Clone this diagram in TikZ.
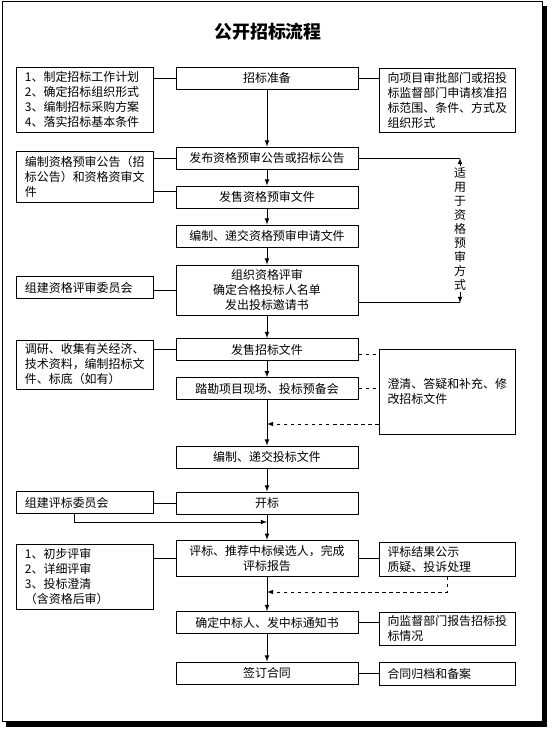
\documentclass[tikz,border=0pt]{standalone}
\usepackage{fontspec}
\setmainfont{Noto Sans CJK SC}
\usetikzlibrary{arrows,positioning,calc}

\begin{document}
\begin{tikzpicture}[x=0.03cm, y=-0.03cm,
    every node/.style={font=\fontsize{10.2}{12.8}\selectfont},
    mainbox/.style={draw, line width=0.8pt, minimum width=5.46cm, minimum height=0.66cm, inner sep=0pt, align=center},
    sidebox/.style={draw, line width=0.8pt, minimum width=4.1cm, text width=3.6cm, inner xsep=0.25cm, inner ysep=0pt, align=left},
    link/.style={line width=0.8pt},
    flow/.style={line width=0.8pt, -latex},
    dashlink/.style={line width=0.8pt, dashed}]
    \useasboundingbox (0,0) rectangle (551,730);
    % page frame with shadow
    \fill (6,6) rectangle (547,727);
    \draw[line width=0.8pt, fill=white] (2,1) rectangle (542,721);

    \node[font=\bfseries\fontsize{15.3}{18}\selectfont] (title) at (268,32) {公开招标流程};

    % main steps
    \node[mainbox] (prep) at (267,78) {招标准备};
    \node[mainbox] (pub) at (267,158) {发布资格预审公告或招标公告};
    \node[mainbox] (sellq) at (267,197) {发售资格预审文件};
    \node[mainbox] (apply) at (267,236) {编制、递交资格预审申请文件};
    \node[mainbox, minimum height=1.5cm] (review) at (267,290) {组织资格评审\\确定合格投标人名单\\发出投标邀请书};
    \node[mainbox] (selldoc) at (267,349.5) {发售招标文件};
    \node[mainbox] (visit) at (267,388.7) {踏勘项目现场、投标预备会};
    \node[mainbox] (bid) at (267,457) {编制、递交投标文件};
    \node[mainbox] (open) at (267,503) {开标};
    \node[mainbox, minimum height=1.1cm] (eval) at (267,558.5) {评标、推荐中标候选人，完成\\评标报告};
    \node[mainbox] (award) at (267,622.5) {确定中标人、发中标通知书};
    \node[mainbox] (sign) at (267,673) {签订合同};

    % left notes
    \node[sidebox, minimum height=1.95cm] (plan) at (85,99.5) {1、制定招标工作计划\\2、确定招标组织形式\\3、编制招标采购方案\\4、落实招标基本条件};
    \node[sidebox, minimum height=1.53cm] (notice) at (85,176.5) {编制资格预审公告（招\\标公告）和资格资审文\\件};
    \node[sidebox, minimum height=0.66cm] (qcomm) at (85,287.5) {组建资格评审委员会};
    \node[sidebox, minimum height=1.47cm] (research) at (85,364.5) {调研、收集有关经济、\\技术资料，编制招标文\\件、标底（如有）};
    \node[sidebox, minimum height=0.66cm] (ecomm) at (85,502.5) {组建评标委员会};
    \node[sidebox, minimum height=1.95cm] (steps) at (85,576.5) {1、初步评审\\2、详细评审\\3、投标澄清\\（含资格后审）};

    % right notes
    \node[sidebox, minimum height=1.92cm] (approve) at (447.5,100) {向项目审批部门或招投\\标监督部门申请核准招\\标范围、条件、方式及\\组织形式};
    \node[sidebox, minimum height=2.55cm] (clarify) at (447.5,391.5) {澄清、答疑和补充、修\\改招标文件};
    \node[sidebox, minimum height=1.02cm] (publicize) at (447.5,559) {评标结果公示\\质疑、投诉处理};
    \node[sidebox, minimum height=0.99cm] (report) at (447.5,628.5) {向监督部门报告招标投\\标情况};
    \node[sidebox, minimum height=0.69cm] (archive) at (447.5,673.5) {合同归档和备案};
    \node[inner sep=1pt, align=center, font=\fontsize{10.2}{12}\selectfont] (prequal) at (460,229) {适\\用\\于\\资\\格\\预\\审\\方\\式};

    % main flow
    \draw[flow] (prep) -- (pub);
    \draw[flow] (pub) -- (sellq);
    \draw[flow] (sellq) -- (apply);
    \draw[flow] (apply) -- (review);
    \draw[flow] (review) -- (selldoc);
    \draw[flow] (selldoc) -- (visit);
    \draw[flow] (visit) -- (bid);
    \draw[flow] (bid) -- (open);
    \draw[flow] (open) -- (eval);
    \draw[flow] (eval) -- (award);
    \draw[flow] (award) -- (sign);

    % side links
    \draw[link] (prep.west) -- (prep.west -| plan.east);
    \draw[link] (prep.east) -- (prep.east -| approve.west);
    \draw[link] (pub.west) -- (pub.west -| notice.east);
    \coordinate (s1) at ([yshift=5pt]sellq.west);
    \draw[link] (s1) -- (s1 -| notice.east);
    \draw[link] (review.west) -- (review.west -| qcomm.east);
    \draw[link] (selldoc.west) -- (selldoc.west -| research.east);
    \draw[link] (open.west) -- (open.west -| ecomm.east);
    \draw[link] (eval.west) -- (eval.west -| steps.east);
    \draw[link] (eval.east) -- (eval.east -| publicize.west);
    \draw[link] (award.east) -- (award.east -| report.west);
    \draw[link] (sign.east) -- (sign.east -| archive.west);

    % prequalification span
    \draw[link] (pub.east) -- (pub.east -| prequal.north);
    \coordinate (rq) at ([yshift=-11pt]review.east);
    \draw[link] (rq) -- (rq -| prequal.south);
    \draw[flow] (prequal.north) -- (prequal.north |- pub.east);
    \draw[flow] (prequal.south) -- (prequal.south |- rq);

    % clarification feedback
    \coordinate (d1) at ([yshift=-4.5pt]selldoc.east);
    \draw[dashlink] (d1) -- (d1 -| clarify.west);
    \draw[dashlink] (visit.east) -- (visit.east -| clarify.west);
    \coordinate (j1) at (267,424);
    \draw[dashlink, -latex] (j1 -| clarify.west) -- (j1);

    % committee and publicity joins
    \coordinate (j2) at (267,522);
    \draw[flow] ([xshift=-9.4pt]ecomm.south) |- (j2);
    \coordinate (j3) at (267,592);
    \draw[dashlink, -latex] (publicize.south) |- (j3);
\end{tikzpicture}
\end{document}
